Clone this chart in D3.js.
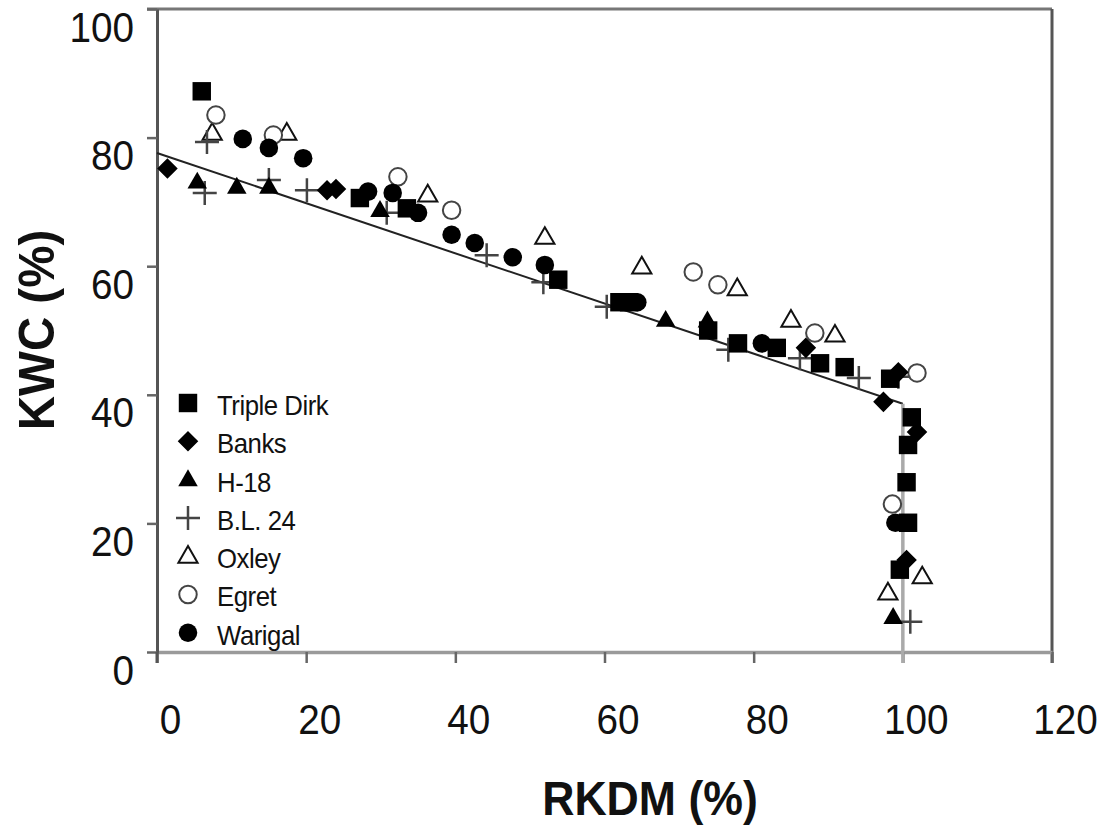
<!DOCTYPE html>
<html><head><meta charset="utf-8">
<script src="https://cdn.jsdelivr.net/npm/d3@7"></script>
<style>
html,body{margin:0;padding:0;background:#fff;}
svg{display:block;font-family:Arial,"Liberation Sans",sans-serif;}
</style></head>
<body><svg id="c" width="1103" height="828"></svg>
<script>
// ---- data (RKDM %, KWC %) ----
const seriesNames = ["Triple Dirk","Banks","H-18","B.L. 24","Oxley","Egret","Warigal"];
const tripleDirkX = [6.0,27.2,33.5,53.8,62.0,63.3,73.9,77.9,83.1,88.9,92.2,98.3,101.2,100.7,100.5,100.7,99.6];
const tripleDirkY = [87.2,70.6,69.0,57.9,54.4,54.4,50.0,48.0,47.3,44.9,44.3,42.5,36.5,32.2,26.4,20.1,12.8];
const banksX = [1.4,22.8,24.0,87.0,97.4,99.4,101.9,100.5];
const banksY = [75.2,71.8,72.0,47.3,38.9,43.5,34.2,14.3];
const h18X = [5.4,10.7,15.0,29.9,68.2,73.8,98.7];
const h18Y = [73.1,72.3,72.3,68.7,51.6,51.5,5.4];
const bl24X = [6.7,6.4,15.0,20.1,30.8,44.2,51.8,60.3,76.6,86.2,94.1,99.4,101.0];
const bl24Y = [79.3,71.4,73.4,71.8,68.3,61.7,57.5,53.7,47.0,45.7,42.6,42.8,4.7];
const oxleyX = [7.4,17.4,36.3,52.0,65.0,77.8,85.0,90.9,102.6,98.0];
const oxleyY = [80.7,80.7,71.1,64.5,59.9,56.5,51.6,49.3,11.7,9.2];
const egretX = [7.9,15.6,32.3,39.5,71.9,75.2,88.2,101.9,98.6];
const egretY = [83.5,80.4,73.9,68.7,59.1,57.1,49.6,43.4,23.0];
const warigalX = [11.5,15.0,19.6,28.3,31.6,35.0,39.5,42.6,47.7,52.0,64.4,81.1,99.0];
const warigalY = [79.8,78.4,76.8,71.6,71.4,68.3,64.9,63.6,61.4,60.2,54.4,48.0,20.1];
// fitted broken line
const fitX = [0,100,100];
const fitY = [77.6,38.6,0];
const xTicks = [0,20,40,60,80,100,120];
const yTicks = [0,20,40,60,80,100];

const svg = d3.select("#c");
const x = d3.scaleLinear().domain([0,120]).range([157,1052]);
const y = d3.scaleLinear().domain([0,100]).range([652,9]);

// frame
svg.append("line").attr("x1",x(0)-10).attr("x2",x(120)).attr("y1",y(100)).attr("y2",y(100))
  .attr("stroke","#777").attr("stroke-width",3);
svg.append("line").attr("x1",x(120)).attr("x2",x(120)).attr("y1",y(100)).attr("y2",y(0)+11)
  .attr("stroke","#555").attr("stroke-width",3);

// x axis
const gx = svg.append("g").attr("transform",`translate(0,${y(0)})`)
  .call(d3.axisBottom(x).tickValues(xTicks).tickSize(11).tickPadding(0).tickSizeOuter(0));
gx.select(".domain").attr("stroke","#9a9a9a").attr("stroke-width",3.5);
gx.selectAll(".tick line").attr("stroke","#666").attr("stroke-width",2.5);
gx.selectAll(".tick text").attr("font-size",43).attr("fill","#111")
  .attr("dy",0).attr("y",0)
  .attr("transform","translate(13,82) scale(0.9,1)")
  .attr("font-family","Arial, 'Liberation Sans', sans-serif");

// y axis
const gy = svg.append("g").attr("transform",`translate(${x(0)},0)`)
  .call(d3.axisLeft(y).tickValues(yTicks).tickSize(10).tickPadding(0).tickSizeOuter(0));
gy.select(".domain").attr("stroke","#555").attr("stroke-width",3);
gy.selectAll(".tick line").attr("stroke","#666").attr("stroke-width",2.5);
gy.selectAll(".tick text").attr("font-size",43).attr("fill","#111")
  .attr("x",0).attr("dy",0)
  .attr("transform","translate(-23,32) scale(0.9,1)")
  .attr("font-family","Arial, 'Liberation Sans', sans-serif");
// extend left axis below origin
svg.append("line").attr("x1",x(0)).attr("x2",x(0)).attr("y1",y(0)).attr("y2",y(0)+11)
  .attr("stroke","#555").attr("stroke-width",3);

// axis titles
svg.append("text").attr("x",650).attr("y",815).attr("text-anchor","middle")
  .attr("font-size",48).attr("font-weight","bold").attr("fill","#111")
  .attr("transform","translate(650,0) scale(0.93,1) translate(-650,0)")
  .text("RKDM (%)");
svg.append("text").attr("text-anchor","middle").attr("font-size",50).attr("font-weight","bold")
  .attr("fill","#111").attr("transform","translate(54,330) rotate(-90) scale(0.95,1)")
  .text("KWC (%)");

// fitted line
svg.append("line").attr("x1",x(fitX[0])).attr("y1",y(fitY[0])).attr("x2",x(fitX[1])).attr("y2",y(fitY[1]))
  .attr("stroke","#222").attr("stroke-width",2);
svg.append("line").attr("x1",x(fitX[1])).attr("y1",y(fitY[1])).attr("x2",x(fitX[2])).attr("y2",y(fitY[2])+11)
  .attr("stroke","#aaa").attr("stroke-width",3.5);

// markers
const sym = {
  "Triple Dirk": {type:d3.symbolSquare,size:340,fill:"#000",stroke:"none"},
  "Banks": {type:d3.symbolDiamond2,size:200,fill:"#000",stroke:"#000"},
  "H-18": {type:d3.symbolTriangle,size:165,fill:"#000",stroke:"none"},
  "Oxley": {type:d3.symbolTriangle,size:160,fill:"#fff",stroke:"#111"},
  "Egret": {type:d3.symbolCircle,size:240,fill:"#fff",stroke:"#444"},
  "Warigal": {type:d3.symbolCircle,size:270,fill:"#000",stroke:"none"}
};
function drawMarker(g, name, cx, cy){
  if(name==="B.L. 24"){
    g.append("path").attr("d",`M${cx-12},${cy}H${cx+12}M${cx},${cy-12}V${cy+12}`)
      .attr("stroke","#444").attr("stroke-width",2.5).attr("fill","none");
    return;
  }
  const s = sym[name];
  const dy = (s.type===d3.symbolTriangle)?1:0;
  g.append("path").attr("d",d3.symbol().type(s.type).size(s.size)())
    .attr("transform",`translate(${cx},${cy+dy})`)
    .attr("fill",s.fill).attr("stroke",s.stroke).attr("stroke-width",2);
}
const data = [
  ["Oxley",oxleyX,oxleyY],["Egret",egretX,egretY],["B.L. 24",bl24X,bl24Y],
  ["H-18",h18X,h18Y],["Banks",banksX,banksY],["Warigal",warigalX,warigalY],
  ["Triple Dirk",tripleDirkX,tripleDirkY]
];
const gm = svg.append("g");
data.forEach(([name,xs,ys])=>{
  xs.forEach((v,i)=>drawMarker(gm,name,x(v),y(ys[i])));
});

// legend
const lg = svg.append("g");
seriesNames.forEach((n,i)=>{
  const cy = 403 + i*38.3;
  drawMarker(lg,n,188,cy);
  lg.append("text").attr("x",217).attr("y",cy+12).attr("font-size",28).attr("fill","#111")
    .attr("transform",`translate(217,0) scale(0.92,1) translate(-217,0)`)
    .attr("letter-spacing",-0.5).text(n);
});
</script>
</body></html>
